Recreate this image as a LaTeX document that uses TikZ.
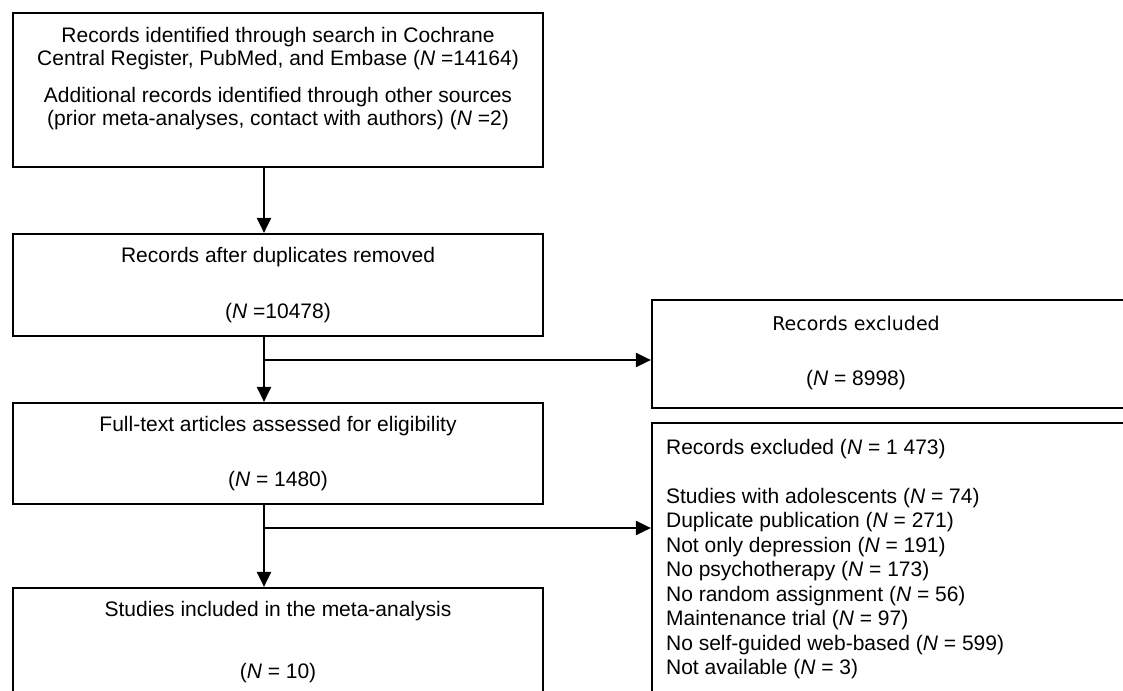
\documentclass[tikz,border=0pt]{standalone}
\usepackage{fontspec}
\setmainfont{Liberation Sans}
\newfontfamily\widefont{DejaVu Sans}
\usetikzlibrary{arrows.meta}

\begin{document}
\begin{tikzpicture}[x=1pt, y=-1pt,
	box/.style={draw, line width=2.2pt, inner sep=0pt, minimum width=530pt},
	txt/.style={align=center, inner sep=0pt, font=\fontsize{21}{23.5}\selectfont},
	arrow/.style={line width=2.2pt, -{Triangle[length=15pt, width=14pt]}}]
	\useasboundingbox (0,0) rectangle (1123,690);
	\clip (0,0) rectangle (1123,690);
	% left column
	\node[box, minimum height=154pt] (ident) at (278,90) {};
	\node[txt, anchor=north] (identtxt) at ([yshift=-15pt]ident.north)
		{Records identified through search in Cochrane\\
		Central Register, PubMed, and Embase (\textit{N} =14164)\\[13pt]
		Additional records identified through other sources\\
		(prior meta-analyses, contact with authors) (\textit{N} =2)};
	\node[box, txt, minimum height=102pt] (dupl) at (278,285)
		{Records after duplicates removed\\[32pt](\textit{N} =10478)};
	\node[box, txt, minimum height=101pt] (full) at (278,453.5)
		{Full-text articles assessed for eligibility\\[32pt](\textit{N} = 1480)};
	\node[box, txt, minimum height=108pt] (incl) at (278,642)
		{Studies included in the meta-analysis\\[38pt](\textit{N} = 10)};
	% right column
	\node[box, minimum width=520pt, minimum height=108pt] (excl) at (912,354) {};
	\node[txt] (excltxt) at (856,353)
		{{\widefont\fontsize{19}{23.5}\selectfont Records excluded}\\[32pt](\textit{N} = 8998)};
	\node[box, minimum width=520pt, minimum height=300pt] (elig) at (912,573) {};
	\node[txt, align=left, anchor=north west, font=\fontsize{21}{24.5}\selectfont] (eligtxt)
		at ([xshift=15pt, yshift=-17pt]elig.north west)
		{Records excluded (\textit{N} = 1 473)\\[24.5pt]
		Studies with adolescents (\textit{N} = 74)\\
		Duplicate publication (\textit{N} = 271)\\
		Not only depression (\textit{N} = 191)\\
		No psychotherapy (\textit{N} = 173)\\
		No random assignment (\textit{N} = 56)\\
		Maintenance trial (\textit{N} = 97)\\
		No self-guided web-based (\textit{N} = 599)\\
		Not available (\textit{N} = 3)};
	% connectors
	\coordinate (spine) at (264,0);
	\coordinate (split1) at (264,360);
	\coordinate (split2) at (264,528);
	\draw[arrow] (ident.south -| spine) -- (dupl.north -| spine);
	\draw[arrow] (dupl.south -| spine) -- (full.north -| spine);
	\draw[arrow] (full.south -| spine) -- (incl.north -| spine);
	\draw[arrow] (split1) -- (split1 -| excl.west);
	\draw[arrow] (split2) -- (split2 -| elig.west);
\end{tikzpicture}
\end{document}
